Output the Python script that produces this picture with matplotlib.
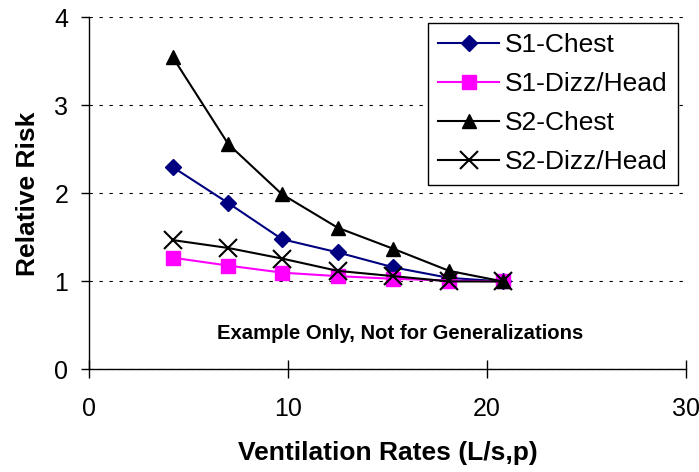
import matplotlib
matplotlib.use("Agg")
import matplotlib.pyplot as plt

plt.rcParams['font.family'] = ['Liberation Sans', 'DejaVu Sans']

vent_rates = [4.2, 7.0, 9.7, 12.5, 15.3, 18.1, 20.8]
s1_chest = [2.30, 1.89, 1.48, 1.33, 1.16, 1.04, 1.00]
s1_dizz = [1.27, 1.18, 1.10, 1.06, 1.03, 1.01, 1.00]
s2_chest = [3.55, 2.56, 1.99, 1.61, 1.37, 1.12, 1.00]
s2_dizz = [1.47, 1.38, 1.26, 1.12, 1.06, 1.00, 1.00]

x_ticks = [0, 10, 20, 30]
y_ticks = [0, 1, 2, 3, 4]

fig = plt.figure(figsize=(6.99, 4.72), dpi=100)
ax = fig.add_axes([0.1273, 0.2172, 0.8541, 0.7461])

ax.plot(vent_rates, s1_chest, color='#000080', marker='D', markersize=8.5,
        linewidth=1.5, label='S1-Chest', zorder=3)
ax.plot(vent_rates, s1_dizz, color='#FF00FF', marker='s', markersize=9.5,
        linewidth=1.5, label='S1-Dizz/Head', zorder=3)
ax.plot(vent_rates, s2_chest, color='black', marker='^', markersize=10.5,
        linewidth=1.5, label='S2-Chest', zorder=3)
ax.plot(vent_rates, s2_dizz, color='black', marker='x', markersize=12.5,
        markeredgewidth=1.5, linewidth=1.5, label='S2-Dizz/Head', zorder=3)

ax.set_xlim(0, 30)
ax.set_ylim(0, 4)
ax.set_xticks(x_ticks)
ax.set_yticks(y_ticks)
ax.tick_params(axis='x', direction='inout', length=13, width=1, labelsize=18, pad=13)
ax.tick_params(axis='y', direction='out', length=6, width=1, labelsize=18, pad=9)

for s in ['top', 'right']:
    ax.spines[s].set_visible(False)
ax.spines['left'].set_linewidth(1)
ax.spines['bottom'].set_linewidth(1)

ax.yaxis.grid(True, color='black', linestyle=(0, (3, 6)), linewidth=0.8)
ax.set_axisbelow(True)

ax.set_xlabel('Ventilation Rates (L/s,p)', fontsize=19, fontweight='bold', labelpad=15)
ax.set_ylabel('Relative Risk', fontsize=19, fontweight='bold', labelpad=10)

ax.text(15.66, 0.343, 'Example Only, Not for Generalizations', ha='center', va='baseline',
        fontsize=14.6, fontweight='bold')

leg = ax.legend(loc='upper right', bbox_to_anchor=(0.9866, 0.9847), fontsize=19,
                frameon=True, fancybox=False, edgecolor='black', framealpha=1,
                handlelength=2.3, handletextpad=0.22, borderpad=0.4, labelspacing=0.57,
                borderaxespad=0)
leg.get_frame().set_linewidth(1)

fig.savefig('out.png', dpi=100)
